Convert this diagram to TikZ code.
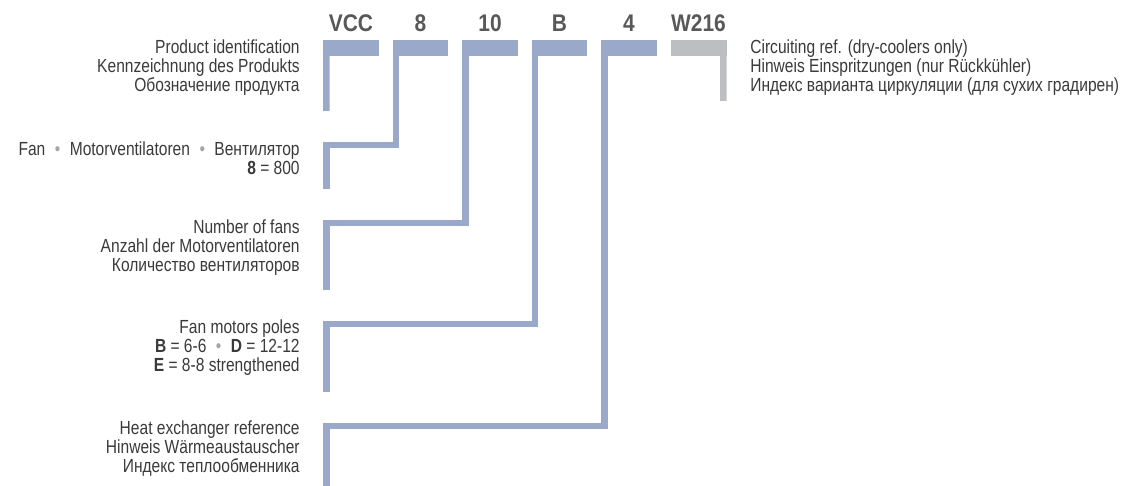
\documentclass[tikz,border=0pt]{standalone}
\usepackage{fontspec}
\setmainfont{Liberation Sans}[FakeStretch=0.82]
\newfontfamily\headfont{Liberation Sans}[FakeStretch=0.87]
\usepackage{xcolor}
\usepackage{tikz}
\usetikzlibrary{positioning, calc}
\definecolor{barblue}{RGB}{154, 168, 201}
\definecolor{bargray}{RGB}{189, 190, 194}
\definecolor{textdark}{RGB}{58, 58, 58}
\definecolor{headgray}{RGB}{88, 88, 90}
\definecolor{dotgray}{RGB}{165, 165, 165}
\newcommand{\graydot}{\enspace{\color{dotgray}\textbullet}\enspace}

\begin{document}
\begin{tikzpicture}[
    x=0.02cm, y=-0.02cm,
    code/.style={font=\headfont\fontsize{13.7}{16}\selectfont\bfseries, text=headgray, inner sep=0pt, anchor=base},
    bar/.style={fill=barblue, minimum width=1.12cm, minimum height=0.32cm, inner sep=0pt, outer sep=0pt},
    link/.style={draw=barblue, line width=0.13cm, line join=miter},
    lbl/.style={font=\fontsize{10.8}{11.05}\selectfont, text=textdark, align=right, inner sep=0pt, anchor=north east},
    lblr/.style={lbl, align=left, anchor=north west}
]
\useasboundingbox (0,0) rectangle (1123,486);

% Code bars with their letters
\foreach \id/\txt [count=\i from 0] in {vcc/VCC, fan/8, num/10, pol/B, hex/4}{
    \node[bar] (bar-\id) at (351+69.5*\i, 48) {};
    \node[code] (code-\id) at ([yshift=0.16cm]bar-\id.north) {\txt};
}
\node[bar, fill=bargray] (bar-cir) at (698.5, 48) {};
\node[code] (code-cir) at ([yshift=0.16cm]bar-cir.north) {W216};

% Left labels
\node[lbl] (prod) at (300, 39) {Product identification\\Kennzeichnung des Produkts\\Обозначение продукта};
\node[lbl] (fan) at (300, 141) {Fan\graydot Motorventilatoren\graydot Вентилятор\\\textbf{8} = 800};
\node[lbl] (num) at (300, 219) {Number of fans\\Anzahl der Motorventilatoren\\Количество вентиляторов};
\node[lbl] (pol) at (300, 319) {Fan motors poles\\\textbf{B} = 6-6\graydot\textbf{D} = 12-12\\\textbf{E} = 8-8 strengthened};
\node[lbl] (hex) at (300, 420) {Heat exchanger reference\\Hinweis Wärmeaustauscher\\Индекс теплообменника};

% Right label
\node[lblr] (cir) at (750, 39) {Circuiting ref. (dry-coolers only)\\Hinweis Einspritzungen (nur Rückkühler)\\Индекс варианта циркуляции (для сухих градирен)};

% Turn points and free ends
\coordinate (vccEnd) at (326.25, 111);
\coordinate (fanTurn) at (326.25, 145);
\coordinate (fanEnd) at (326.25, 189);
\coordinate (numTurn) at (326.25, 223);
\coordinate (numEnd) at (326.25, 290);
\coordinate (polTurn) at (326.25, 324);
\coordinate (polEnd) at (326.25, 392);
\coordinate (hexTurn) at (326.25, 426);
\coordinate (hexEnd) at (326.25, 486);
\coordinate (cirEnd) at (723.25, 101);

% Connectors
\draw[link] ([xshift=0.065cm]bar-vcc.west) -- (vccEnd);
\draw[link] ([xshift=0.065cm]bar-fan.west) |- (fanTurn) -- (fanEnd);
\draw[link] ([xshift=0.065cm]bar-num.west) |- (numTurn) -- (numEnd);
\draw[link] ([xshift=0.065cm]bar-pol.west) |- (polTurn) -- (polEnd);
\draw[link] ([xshift=0.065cm]bar-hex.west) |- (hexTurn) -- (hexEnd);
\draw[link, draw=bargray] ([xshift=-0.065cm]bar-cir.east) -- (cirEnd);

\end{tikzpicture}
\end{document}
